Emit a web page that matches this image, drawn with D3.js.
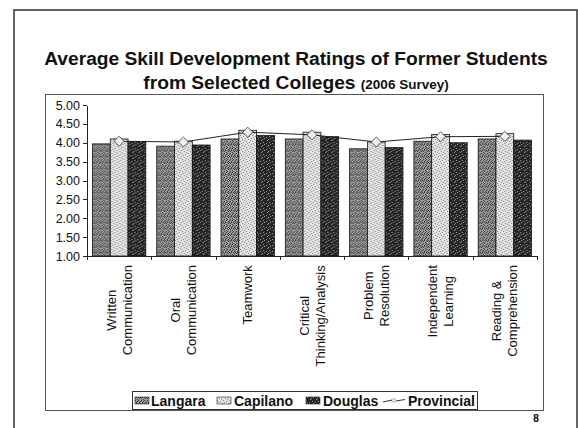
<!DOCTYPE html>
<meta charset="utf-8">

<style type="text/css">
  body {
    margin: 0;
    background: #fff;
    font-family: "Liberation Sans", Arial, sans-serif;
  }

  .axis path,
  .axis line {
    stroke: #222;
    stroke-width: 1px;
    shape-rendering: crispEdges;
  }

  .axis text {
    font: 12.5px "Liberation Sans", Arial, sans-serif;
    fill: #111;
  }
</style>

<body>
</body>

<script src="https://d3js.org/d3.v7.min.js"></script>
<script>
  var categories = [
    ["Written", "Communication"],
    ["Oral", "Communication"],
    ["Teamwork"],
    ["Critical", "Thinking/Analysis"],
    ["Problem", "Resolution"],
    ["Independent", "Learning"],
    ["Reading &", "Comprehension"]
  ];
  var seriesNames = ["Langara", "Capilano", "Douglas"];
  var langara = [3.97, 3.91, 4.10, 4.10, 3.84, 4.04, 4.10];
  var capilano = [4.10, 4.04, 4.33, 4.28, 4.02, 4.22, 4.24];
  var douglas = [4.03, 3.94, 4.19, 4.16, 3.87, 4.00, 4.07];
  var provincial = [4.04, 4.02, 4.28, 4.21, 4.02, 4.16, 4.17];
  var yTicks = [1.00, 1.50, 2.00, 2.50, 3.00, 3.50, 4.00, 4.50, 5.00];

  var W = 578,
    H = 428;

  var plot = {
    left: 87,
    right: 537,
    top: 105,
    bottom: 256
  };

  var svg = d3.select("body")
    .append("svg")
    .attr("width", W)
    .attr("height", H);

  // bar fill textures (scanned halftone look)
  var defs = svg.append("defs");

  function texture(id, bg, fg, dots) {
    var p = defs.append("pattern")
      .attr("id", id)
      .attr("patternUnits", "userSpaceOnUse")
      .attr("width", 6)
      .attr("height", 6);
    p.append("rect").attr("width", 6).attr("height", 6).attr("fill", bg);
    dots.forEach(function(d) {
      p.append("rect")
        .attr("x", d[0]).attr("y", d[1])
        .attr("width", 1).attr("height", 1)
        .attr("fill", fg);
    });
  }

  texture("pat-langara", "#9a9a9a", "#3c3c3c",
    [[0, 0], [2, 0], [4, 0], [1, 1], [5, 2], [0, 3], [3, 3], [2, 4], [4, 5], [1, 5], [3, 1], [5, 4]]);
  texture("pat-capilano", "#e2e2e2", "#888",
    [[0, 0], [3, 1], [1, 3], [5, 2], [4, 4], [2, 5]]);
  texture("pat-douglas", "#262626", "#9a9a9a",
    [[1, 0], [4, 2], [0, 4], [3, 5], [5, 1]]);

  var fills = ["url(#pat-langara)", "url(#pat-capilano)", "url(#pat-douglas)"];
  var values = [langara, capilano, douglas];

  // page frame
  svg.append("path")
    .attr("d", "M14,428V10H577V428")
    .attr("fill", "none")
    .attr("stroke", "#333")
    .attr("stroke-width", 1.5);

  // title
  var title = svg.append("g")
    .attr("font-weight", "bold")
    .attr("fill", "#111")
    .attr("text-anchor", "middle");

  title.append("text")
    .attr("x", 296)
    .attr("y", 65)
    .style("font-size", "19.2px")
    .text("Average Skill Development Ratings of Former Students");

  var t2 = title.append("text")
    .attr("x", 296)
    .attr("y", 89)
    .style("font-size", "19.2px");
  t2.append("tspan").text("from Selected Colleges ");
  t2.append("tspan").style("font-size", "13.5px").text("(2006 Survey)");

  // chart box
  svg.append("rect")
    .attr("x", 45.5)
    .attr("y", 94.5)
    .attr("width", 498)
    .attr("height", 316)
    .attr("fill", "none")
    .attr("stroke", "#555")
    .attr("stroke-width", 1);

  var keys = categories.map(function(d) {
    return d.join(" ");
  });

  var x = d3.scaleBand()
    .domain(keys)
    .range([plot.left, plot.right])
    .paddingInner(0.17)
    .paddingOuter(0.085);

  var xs = d3.scaleBand()
    .domain(seriesNames)
    .range([0, x.bandwidth()]);

  var y = d3.scaleLinear()
    .domain([1, 5])
    .range([plot.bottom, plot.top]);

  var xEdge = d3.scaleLinear()
    .domain([0, categories.length])
    .range([plot.left, plot.right]);

  // bars
  var groups = svg.append("g")
    .selectAll("g")
    .data(keys)
    .join("g")
    .attr("transform", function(d) {
      return "translate(" + x(d) + ",0)";
    });

  groups.selectAll("rect")
    .data(function(d, i) {
      return seriesNames.map(function(s, j) {
        return {
          s: s,
          j: j,
          v: values[j][i]
        };
      });
    })
    .join("rect")
    .attr("x", function(d) {
      return xs(d.s);
    })
    .attr("y", function(d) {
      return y(d.v);
    })
    .attr("width", xs.bandwidth())
    .attr("height", function(d) {
      return y(1) - y(d.v);
    })
    .attr("fill", function(d) {
      return fills[d.j];
    })
    .attr("stroke", "#111")
    .attr("stroke-width", 0.8);

  // y axis
  svg.append("g")
    .attr("class", "axis")
    .attr("transform", "translate(" + plot.left + ",0)")
    .call(d3.axisLeft(y)
      .tickValues(yTicks)
      .tickFormat(d3.format(".2f"))
      .tickSize(4)
      .tickSizeOuter(0)
      .tickPadding(3));

  // x axis with ticks at category edges
  var xAxis = svg.append("g")
    .attr("class", "axis")
    .attr("transform", "translate(0," + plot.bottom + ")");

  xAxis.append("path")
    .attr("d", "M" + plot.left + ",0.5H" + plot.right);

  xAxis.selectAll("line")
    .data(d3.range(categories.length + 1))
    .join("line")
    .attr("x1", function(d) {
      return Math.round(xEdge(d)) + 0.5;
    })
    .attr("x2", function(d) {
      return Math.round(xEdge(d)) + 0.5;
    })
    .attr("y1", 0)
    .attr("y2", 4);

  // rotated category labels, lines centred on each other
  var lineGap = 16;
  var labels = svg.append("g")
    .selectAll("text")
    .data(categories)
    .join("text")
    .attr("transform", function(d, i) {
      var cx = x(keys[i]) + x.bandwidth() / 2;
      return "translate(" + cx + "," + (plot.bottom + 9) + ") rotate(-90)";
    })
    .attr("text-anchor", "middle")
    .style("font-size", "13px")
    .attr("fill", "#111");

  labels.each(function(d) {
    var el = d3.select(this);
    var n = d.length;
    d.forEach(function(line, k) {
      el.append("tspan")
        .attr("x", 0)
        .attr("y", (k - (n - 1) / 2) * lineGap + 4.6)
        .text(line);
    });
  });

  // shift each label so its longest line ends at the axis
  labels.each(function() {
    var bb = this.getBBox();
    var el = d3.select(this);
    el.attr("transform", el.attr("transform") + " translate(" + (-bb.width / 2) + ",0)");
  });

  // provincial line and markers
  var line = d3.line()
    .x(function(d, i) {
      return x(keys[i]) + x.bandwidth() / 2;
    })
    .y(function(d) {
      return y(d);
    });

  svg.append("path")
    .datum(provincial)
    .attr("d", line)
    .attr("fill", "none")
    .attr("stroke", "#222")
    .attr("stroke-width", 1);

  svg.append("g")
    .selectAll("path")
    .data(provincial)
    .join("path")
    .attr("transform", function(d, i) {
      return "translate(" + (x(keys[i]) + x.bandwidth() / 2) + "," + y(d) + ")";
    })
    .attr("d", d3.symbol(d3.symbolDiamond2, 64))
    .attr("fill", "#eee")
    .attr("stroke", "#333")
    .attr("stroke-width", 0.8);

  // legend
  var legend = svg.append("g")
    .attr("transform", "translate(132,391)");

  var legendItems = seriesNames.concat(["Provincial"]);
  var swatchX = [3, 85, 174, 251];
  var textX = [19, 102, 191, 276];

  legend.append("rect")
    .attr("x", 0.5)
    .attr("y", 0.5)
    .attr("width", 345)
    .attr("height", 18)
    .attr("fill", "#fff")
    .attr("stroke", "#333");

  legend.selectAll("g")
    .data(legendItems)
    .join("g")
    .each(function(d, i) {
      var g = d3.select(this);
      if (i < 3) {
        g.append("rect")
          .attr("x", swatchX[i])
          .attr("y", 6)
          .attr("width", 14)
          .attr("height", 7)
          .attr("fill", fills[i])
          .attr("stroke", "#222")
          .attr("stroke-width", 0.6);
      } else {
        g.append("path")
          .attr("d", "M" + swatchX[i] + ",11L" + (swatchX[i] + 9) + ",9M" +
            (swatchX[i] + 13) + ",10L" + (swatchX[i] + 22) + ",8.5")
          .attr("stroke", "#333")
          .attr("fill", "none");
        g.append("path")
          .attr("transform", "translate(" + (swatchX[i] + 11) + ",9.5)")
          .attr("d", d3.symbol(d3.symbolDiamond2, 14))
          .attr("fill", "#eee")
          .attr("stroke", "#555")
          .attr("stroke-width", 0.5);
      }
      g.append("text")
        .attr("x", textX[i])
        .attr("y", 14.5)
        .style("font-size", "14px")
        .style("font-weight", "bold")
        .attr("fill", "#111")
        .text(d);
    });

  // page number
  svg.append("text")
    .attr("x", 536)
    .attr("y", 422)
    .style("font-size", "10px")
    .style("font-weight", "bold")
    .attr("text-anchor", "middle")
    .text("8");
</script>
